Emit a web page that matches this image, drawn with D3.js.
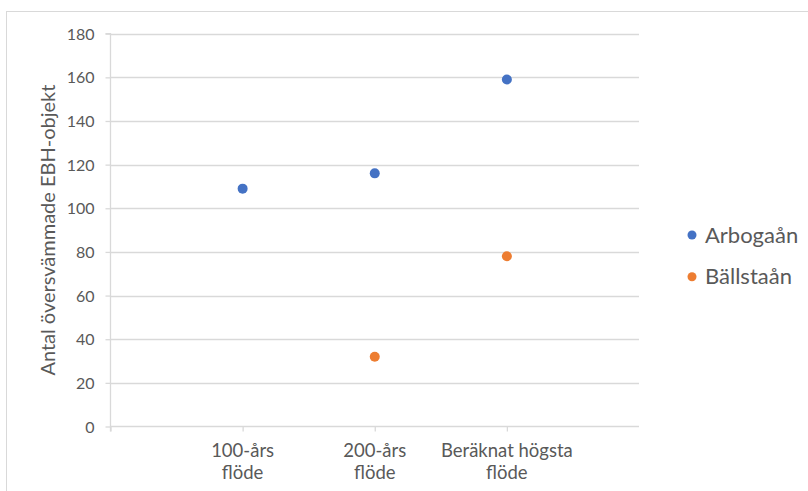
<!DOCTYPE html>
<html><head><meta charset="utf-8">
<script src="https://cdn.jsdelivr.net/npm/d3@7"></script>
<style>
body{margin:0;background:#fff;}
text{font-family:Lato,"Open Sans",sans-serif;fill:#595959;}
</style></head>
<body><svg id="c" width="808" height="491"></svg>
<script>
const categories = ["100-års flöde", "200-års flöde", "Beräknat högsta flöde"];
const categoryLines = [["100-års","flöde"],["200-års","flöde"],["Beräknat högsta","flöde"]];
const seriesNames = ["Arbogaån", "Bällstaån"];
const arbogaan = [109, 116, 159];
const ballstaan = [null, 32, 78];
const yTicks = [0,20,40,60,80,100,120,140,160,180];
const colors = ["#4472C4", "#ED7D31"];

(function(){
const svg = d3.select("#c");
// chart border
svg.append("rect").attr("x",6.5).attr("y",11.5).attr("width",820).attr("height",500)
  .attr("fill","none").attr("stroke","#d9d9d9");

const pL=110.5, pR=639, pT=33.7, pB=426.5;
const x = d3.scaleLinear().domain([0,4]).range([pL,pR]);
const y = d3.scaleLinear().domain([0,180]).range([pB,pT]);

// gridlines
svg.append("g").selectAll("line").data(yTicks.filter(d=>d>0)).join("line")
  .attr("x1",pL).attr("x2",pR)
  .attr("y1",d=>Math.round(y(d))+0.5).attr("y2",d=>Math.round(y(d))+0.5)
  .attr("stroke","#d9d9d9").attr("stroke-width",1.3);

// y axis
const ya = svg.append("g").attr("transform",`translate(${pL},0)`)
  .call(d3.axisLeft(y).tickValues(yTicks).tickSize(5).tickPadding(11));
ya.selectAll("path,line").attr("stroke","#d9d9d9").attr("stroke-width",1.3);
ya.selectAll("text").style("font-size","16px").attr("fill","#595959").attr("dy","0.35em");
ya.select(".domain").attr("d",`M-5,${pT}H0V${pB+5}`);

// x axis
const xa = svg.append("g").attr("transform",`translate(0,${pB})`)
  .call(d3.axisBottom(x).tickValues([0,1,2,3]).tickSize(5).tickFormat(""));
xa.selectAll("path,line").attr("stroke","#d9d9d9").attr("stroke-width",1.3);
xa.select(".domain").attr("d",`M${pL},0H${pR}`);
const lbl = svg.append("g");
categoryLines.forEach((lines,i)=>{
  const t = lbl.append("text").attr("text-anchor","middle")
    .attr("x",x(i+1)).attr("y",457).style("font-size","18.5px");
  lines.forEach((l,j)=>t.append("tspan").attr("x",x(i+1)).attr("dy",j?22:0).text(l));
});

// y title
svg.append("text").attr("transform",`translate(55,${(pT+pB)/2}) rotate(-90)`)
  .attr("text-anchor","middle").style("font-size","20px").text("Antal översvämmade EBH-objekt");

// points
[arbogaan, ballstaan].forEach((vals,s)=>{
  svg.append("g").selectAll("circle").data(vals.map((v,i)=>({v,i})).filter(d=>d.v!=null)).join("circle")
    .attr("cx",d=>x(d.i+1)).attr("cy",d=>y(d.v)).attr("r",5).attr("fill",colors[s]);
});

// legend
seriesNames.forEach((n,i)=>{
  const yy = 235 + i*41.7;
  svg.append("circle").attr("cx",692).attr("cy",yy).attr("r",4.5).attr("fill",colors[i]);
  svg.append("text").attr("x",705).attr("y",yy).attr("dy","0.35em").style("font-size","22px").text(n);
});
})();
</script></body></html>
